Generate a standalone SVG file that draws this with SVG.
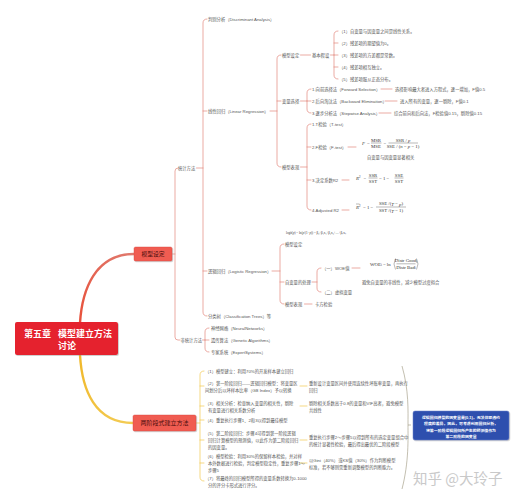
<svg xmlns="http://www.w3.org/2000/svg" width="525" height="500" viewBox="0 0 525 500">
<defs>
<style>
.t{font-family:"Liberation Sans","Noto Sans CJK SC",sans-serif;font-size:4.3px;fill:#555;dominant-baseline:central}
.f{font-family:"Liberation Serif","Noto Sans CJK SC",serif;font-size:4.8px;fill:#333;dominant-baseline:central}
.fi{font-style:italic}
.fm{text-anchor:middle}
.fl{stroke:#333;stroke-width:0.35;fill:none}
.r{fill:none;stroke:#e3877c;stroke-width:0.7;stroke-linecap:round}
.y{fill:none;stroke:#f2c94f;stroke-width:0.7;stroke-linecap:round}
.bx{font-family:"Liberation Sans","Noto Sans CJK SC",sans-serif;dominant-baseline:central;text-anchor:middle}
</style>
<linearGradient id="gr" x1="0" y1="1" x2="1" y2="0">
<stop offset="0" stop-color="#e8503a"/>
<stop offset="1" stop-color="#e07a6e"/>
</linearGradient>
<linearGradient id="gy" x1="0" y1="0" x2="1" y2="1">
<stop offset="0" stop-color="#f0b82a"/>
<stop offset="1" stop-color="#f3cc55"/>
</linearGradient>
<filter id="sh" x="-10%" y="-10%" width="130%" height="140%">
<feDropShadow dx="0.8" dy="0.8" stdDeviation="0.6" flood-color="#888" flood-opacity="0.5"/>
</filter>
</defs>
<rect width="525" height="500" fill="#fff"/>

<g id="connectors">
<path d="M80,323 C82,290 95,254 134,254" fill="none" stroke="url(#gr)" stroke-width="2.4"/>
<path d="M80,355 C82,390 95,423 133,423" fill="none" stroke="url(#gy)" stroke-width="2.4"/>
<path class="r" d="M172,254 H175"/>
<path class="r" d="M178,168 Q175,168 175,171 V337 Q175,340 178,340 H180"/>
<path class="r" d="M196.5,168 H203"/>
<path class="r" d="M207,19 Q203,19 203,23 V312 Q203,316 207,316"/>
<path class="r" d="M203,111 H207 M203,271 H207"/>
<path class="r" d="M270,111 H277"/>
<path class="r" d="M281,55 Q277,55 277,59 V163 Q277,167 281,167 M277,101 H281"/>
<path class="r" d="M300.5,55 H310.5 M330.5,55 H334"/>
<path class="r" d="M338,31 Q334,31 334,35 V75 Q334,79 338,79 M334,43 H338 M334,55 H338 M334,67 H338"/>
<path class="r" d="M300.5,101 H307"/>
<path class="r" d="M311,89 Q307,89 307,93 V109 Q307,113 311,113 M307,101 H311"/>
<path class="r" d="M381,89 H392 M385,101 H397 M379,113 H391"/>
<path class="r" d="M300.5,167 H307"/>
<path class="r" d="M311,124 Q307,124 307,128 V206 Q307,210 311,210 M307,147 H311 M307,180 H311"/>
<path class="r" d="M348,147 H356 M342,180 H349 M342,210 H349"/>
<path class="r" d="M272,271 H280"/>
<path class="r" d="M284,244 Q280,244 280,248 V300 Q280,304 284,304 M280,282 H284"/>
<path class="r" d="M312,282 H317"/>
<path class="r" d="M321,268 Q317,268 317,272 V288 Q317,292 321,292"/>
<path class="r" d="M352,268 H360 M304.5,304 H312"/>
<path class="r" d="M202.5,340 H205"/>
<path class="r" d="M209,328 Q205,328 205,332 V348 Q205,352 209,352 M205,340 H209"/>
<path class="y" d="M196,423 H200"/>
<path class="y" d="M204,371 Q200,371 200,375 V477 Q200,481 204,481 M200,386 H204 M200,406 H204 M200,420 H204 M200,440 H204 M200,463 H204"/>
<path class="y" d="M300,386 H307 M300,406 H307 M300,440 H307 M300,463 H307"/>
<path d="M402,366 C409,390 408,412 408,425 C408,438 409,462 402,489 M408,425 H411" fill="none" stroke="#9a937a" stroke-width="0.6"/>
</g>

<g id="root">
<rect x="15" y="322" width="103" height="33" rx="2" fill="#e5232d" filter="url(#sh)"/>
<text class="bx" x="0" y="0" style="font-size:9px;font-weight:bold;fill:#fff;text-anchor:start"><tspan x="24" y="334">第五章</tspan><tspan x="58" y="334">模型建立方法</tspan><tspan x="58" y="346">讨论</tspan></text>
</g>
<g id="n-model">
<rect x="134" y="247" width="38" height="14" rx="1.5" fill="#f05b51" stroke="#d9473d" stroke-width="0.4" filter="url(#sh)"/>
<text class="bx" x="153" y="254" style="font-size:5.8px;fill:#4a0c0c">模型设定</text>
</g>
<g id="n-twostage">
<rect x="133" y="415" width="63" height="16" rx="1.5" fill="#f05b51" stroke="#d9473d" stroke-width="0.4" filter="url(#sh)"/>
<text class="bx" x="164.5" y="423" style="font-size:6px;fill:#4a0c0c">两阶段式建立方法</text>
</g>

<g id="n-stat"><text class="t" x="178" y="168">统计方法</text></g>
<g id="n-nonstat"><text class="t" x="180.5" y="340">非统计方法</text></g>
<g id="n-da"><text class="t" x="208" y="19">判别分析（Discriminant Analysis）</text></g>
<g id="n-lr"><text class="t" x="208" y="111">线性回归（Linear Regression）</text></g>
<g id="n-lr-set"><text class="t" x="282" y="55">模型设定</text></g>
<g id="n-lr-assume"><text class="t" x="312" y="55">基本假设</text></g>
<g id="n-a1"><text class="t" x="339" y="31">（1）自变量与因变量之间是线性关系。</text></g>
<g id="n-a2"><text class="t" x="339" y="43">（2）残差项的期望值为0。</text></g>
<g id="n-a3"><text class="t" x="339" y="55">（3）残差项的方差都是常数。</text></g>
<g id="n-a4"><text class="t" x="339" y="67">（4）残差项相互独立。</text></g>
<g id="n-a5"><text class="t" x="339" y="79">（5）残差项服从正态分布。</text></g>
<g id="n-lr-sel"><text class="t" x="282" y="101">变量选择</text></g>
<g id="n-s1"><text class="t" x="312" y="89">1.向前选择法（Forward Selection）</text><text class="t" x="395" y="89">选择影响最大者进入方程式，逐一增加，F值0.5</text></g>
<g id="n-s2"><text class="t" x="312" y="101">2.后向淘汰法（Backward Elimination）</text><text class="t" x="400" y="101">进入所有的变量，逐一剔除，F值0.1</text></g>
<g id="n-s3"><text class="t" x="312" y="113">3.逐步分析法（Stepwise Analysis）</text><text class="t" x="394" y="113">综合前向和后向法，F检验值0.15，剔除值0.15</text></g>
<g id="n-lr-perf"><text class="t" x="282" y="167">模型表现</text></g>
<g id="n-p1"><text class="t" x="312" y="124">1.T检验（T-test）</text></g>
<g id="n-p2"><text class="t" x="312" y="147">2.F检验（F-test）</text>
<text class="f fi" x="362" y="143">F</text><text class="f" x="367" y="143">=</text>
<text class="f fm" x="376" y="140">MSR</text><line class="fl" x1="371" y1="143" x2="381.5" y2="143"/><text class="f fm" x="376" y="146.3">MSE</text>
<text class="f" x="383.5" y="143">=</text>
<text class="f fm" x="403" y="140">SSR / <tspan class="fi">p</tspan></text><line class="fl" x1="388.5" y1="143" x2="418" y2="143"/><text class="f fm" x="403" y="146.3">SSE / (<tspan class="fi">n</tspan> − <tspan class="fi">p</tspan> − 1)</text>
<text class="t" x="367" y="157">自变量与因变量显著相关</text></g>
<g id="n-p3"><text class="t" x="312" y="180">3.决定系数R2</text>
<text class="f fi" x="356" y="178">R<tspan style="font-size:3px;font-style:normal" dy="-1.5">2</tspan></text><text class="f" x="363.5" y="178">=</text>
<text class="f fm" x="373" y="175">SSR</text><line class="fl" x1="368.5" y1="178" x2="377.5" y2="178"/><text class="f fm" x="373" y="181.3">SST</text>
<text class="f" x="379" y="178">= 1 −</text>
<text class="f fm" x="399" y="175">SSE</text><line class="fl" x1="394.5" y1="178" x2="403.5" y2="178"/><text class="f fm" x="399" y="181.3">SST</text></g>
<g id="n-p4"><text class="t" x="312" y="210">4.Adjusted R2</text>
<text class="f fi" x="356" y="207">R<tspan style="font-size:3px;font-style:normal" dy="-1.5">2</tspan></text><line class="fl" x1="356" y1="204" x2="359.5" y2="204"/>
<text class="f" x="363" y="207">= 1 −</text>
<text class="f fm" x="391" y="203.5">SSE /(<tspan class="fi">T</tspan> − <tspan class="fi">p</tspan>)</text><line class="fl" x1="376" y1="207" x2="406" y2="207"/><text class="f fm" x="391" y="210.6">SST /(<tspan class="fi">T</tspan> − 1)</text></g>
<g id="n-logit"><text class="t" x="208" y="271">逻辑回归（Logistic Regression）</text></g>
<g id="n-lg-set"><text class="f" x="286" y="233" style="font-size:3.2px">logit(<tspan class="fi">p</tspan>) = ln(<tspan class="fi">p</tspan>/(1−<tspan class="fi">p</tspan>)) = β₀+β₁x₁+β₂x₂+…+βₖxₖ</text><text class="t" x="285" y="244">模型设定</text></g>
<g id="n-lg-var"><text class="t" x="285" y="282">自变量的处理</text></g>
<g id="n-woe"><text class="t" x="322" y="268">（一）WOE值</text>
<text class="f" x="370" y="264">WOE<tspan style="font-size:3px" dy="1">i</tspan><tspan dy="-1"> = ln</tspan></text>
<path class="fl" d="M395.5,258.5 Q392.5,264 395.5,269.5 M416.5,258.5 Q419.5,264 416.5,269.5"/>
<text class="f fm" x="406" y="260.5">Distr  Good<tspan style="font-size:3px" dy="1">i</tspan></text><line class="fl" x1="396.5" y1="263.8" x2="415.5" y2="263.8"/><text class="f fm" x="406" y="267">Distr  Bad<tspan style="font-size:3px" dy="1">i</tspan></text>
<text class="t" x="362" y="282">避免自变量的非线性，减少模型过度拟合</text></g>
<g id="n-dummy"><text class="t" x="322" y="292">（二）虚拟变量</text></g>
<g id="n-lg-perf"><text class="t" x="285" y="304">模型表现</text><text class="t" x="315" y="304">卡方检验</text></g>
<g id="n-tree"><text class="t" x="208" y="316">分类树（Classification Trees）等</text></g>
<g id="n-nn"><text class="t" x="211" y="328">神经网络（NeuralNetworks）</text></g>
<g id="n-ga"><text class="t" x="211" y="340">遗传算法（Genetic Algorithms）</text></g>
<g id="n-es"><text class="t" x="211" y="352">专家系统（ExpertSystems）</text></g>

<g id="n-y1"><text class="t" x="205" y="371">（1）模型建立：利用70%的开发样本建立回归</text></g>
<g id="n-y2"><text class="t"><tspan x="205" y="382.5">（2）第一阶段回归——逻辑回归模型：将变量区</tspan><tspan x="205" y="389.5">间划分后以坏样本比率（GB Index）予以转换</tspan></text>
<text class="t"><tspan x="309" y="382.5">重新设计变量区间并使用连续性坏账率变量，再执行</tspan><tspan x="309" y="389.5">回归</tspan></text></g>
<g id="n-y3"><text class="t"><tspan x="205" y="402.5">（3）相关分析：检查纳入变量的相关性，剔除</tspan><tspan x="208" y="409.5">有变量进行相关系数分析</tspan></text>
<text class="t"><tspan x="309" y="402.5">剔除相关系数高于0.8的变量和VIF高者，避免模型</tspan><tspan x="309" y="409.5">共线性</tspan></text></g>
<g id="n-y4"><text class="t" x="205" y="420">（4）重复执行步骤1、2和3以得到最佳模型</text></g>
<g id="n-y5"><text class="t"><tspan x="205" y="433">（5）第二阶段回归：步骤4可得到第一阶段逻辑</tspan><tspan x="208" y="440">回归计算模型的预测值，以此作为第二阶段回归</tspan><tspan x="208" y="447">的因变量。</tspan></text>
<text class="t"><tspan x="309" y="436.5">重复执行步骤2～步骤5以得到所有的选定变量组合中</tspan><tspan x="309" y="443.5">的统计显著性检验，最后得出最优的二阶段模型</tspan></text></g>
<g id="n-y6"><text class="t"><tspan x="205" y="456">（6）模型检验：利用30%的保留样本检验，并对样</tspan><tspan x="208" y="463">本外数据进行检验，判定模型稳定性，重复步骤1～</tspan><tspan x="208" y="470">步骤5</tspan></text>
<text class="t"><tspan x="309" y="459.5">以Gini（40%）或KS值（30%）作为判断模型</tspan><tspan x="309" y="466.5">标准，若不够则需重新调整模型的判断能力。</tspan></text></g>
<g id="n-y7"><text class="t"><tspan x="205" y="478">（7）将最终的回归模型所得的变量系数转换为0-1000</tspan><tspan x="208" y="485">分的评分卡形式进行评分。</tspan></text></g>

<g id="n-note">
<rect x="413" y="411" width="96" height="29" rx="2" fill="#2d4fae" stroke="#6f86cc" stroke-width="0.5" filter="url(#sh)"/>
<text class="bx" style="font-size:3.9px;font-weight:bold;fill:#fff"><tspan x="461" y="416.5">逻辑回归模型的因变量是(0,1)，无法体现违约</tspan><tspan x="461" y="423">程度的差异，因此，可考虑利用回归分析，</tspan><tspan x="461" y="429.5">将第一阶段逻辑回归所产生的预测值作为</tspan><tspan x="461" y="436">第二阶段的因变量</tspan></text>
</g>

<text x="413" y="484" style="font-family:'Noto Sans CJK SC',sans-serif;font-size:14.5px;fill:#c9c9c9">知乎 @大玲子</text>
</svg>
